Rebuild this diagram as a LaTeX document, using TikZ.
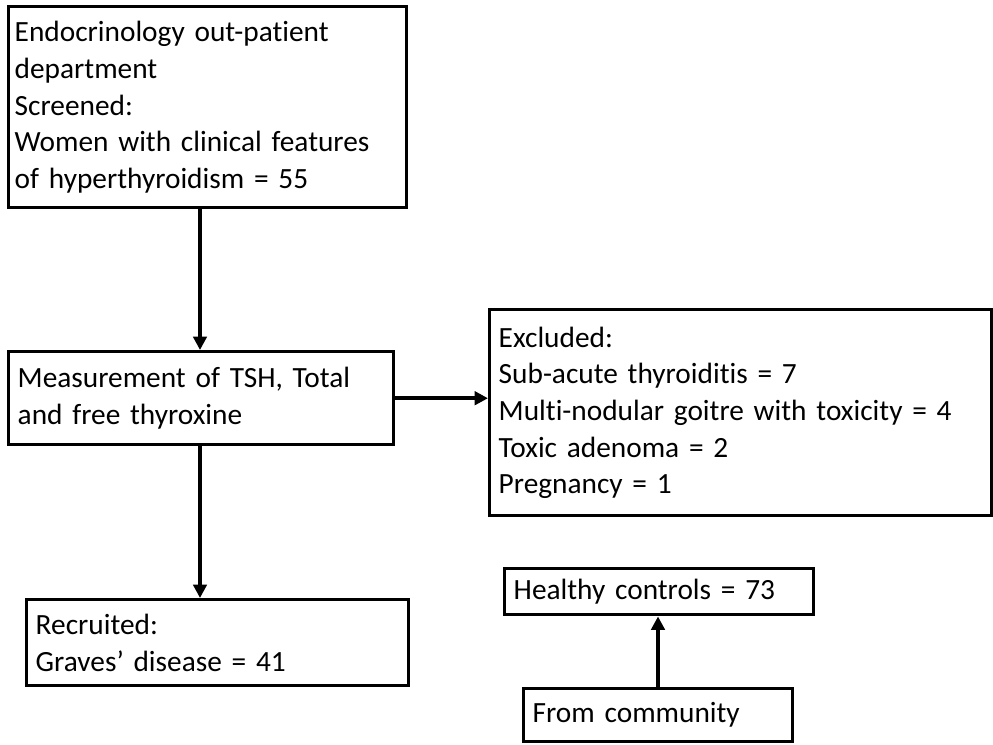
\documentclass[tikz,border=0pt]{standalone}
\usepackage{fontspec}
\setmainfont{Carlito}[Ligatures={NoCommon}]
\usetikzlibrary{arrows.meta}
\begin{document}
\begin{tikzpicture}[x=0.75pt,y=-0.75pt,
  box/.style={draw,line width=2.6pt,inner sep=0pt,align=left,anchor=north west,
    font=\fontsize{22}{27.5}\selectfont},
  arr/.style={line width=2.8pt,-{Triangle[length=10pt,width=10pt]}}]
\useasboundingbox (0,0) rectangle (993,745);
\node[box,minimum width=398pt*0.75,minimum height=201pt*0.75,text width=386pt*0.75] (b1) at (7,5)
 {Endocrinology out-patient\\department\\Screened:\\Women with clinical features\\of hyperthyroidism = 55};
\node[box,minimum width=385pt*0.75,minimum height=93pt*0.75,text width=367pt*0.75] (b2) at (7,350)
 {Measurement of TSH, Total\\and free thyroxine};
\node[box,minimum width=502pt*0.75,minimum height=206pt*0.75,text width=484pt*0.75] (b3) at (488,308)
 {Excluded:\\Sub-acute thyroiditis = 7\\Multi-nodular goitre with toxicity = 4\\Toxic adenoma = 2\\Pregnancy = 1};
\node[box,minimum width=382pt*0.75,minimum height=86pt*0.75,text width=364pt*0.75] (b4) at (25,598)
 {Recruited:\\Graves’ disease = 41};
\node[box,minimum width=309pt*0.75,minimum height=46pt*0.75,text width=291pt*0.75] (b5) at (503,567)
 {Healthy controls = 73};
\node[box,minimum width=269pt*0.75,minimum height=53pt*0.75,text width=251pt*0.75] (b6) at (522,687)
 {From community};
\draw[arr] (b1.south -| 200,0) -- (b2.north -| 200,0);
\draw[arr] (b2.east) -- (b3.west |- b2.east);
\draw[arr] (b2.south -| 200,0) -- (b4.north -| 200,0);
\draw[arr] (b6.north -| 658,0) -- (b5.south -| 658,0);
\end{tikzpicture}
\end{document}
